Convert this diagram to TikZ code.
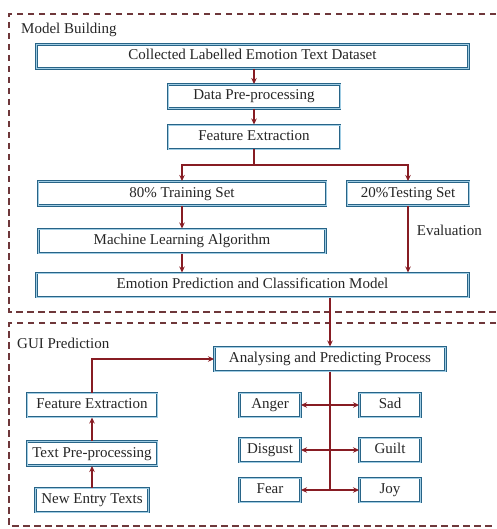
\documentclass[tikz,border=0pt]{standalone}
\usepackage{fontspec}
\setmainfont{Liberation Serif}
\usetikzlibrary{arrows.meta}
\definecolor{boxblue}{RGB}{40,100,135}
\definecolor{boxfill}{RGB}{160,205,228}
\definecolor{arrred}{RGB}{135,28,35}
\definecolor{dashcol}{RGB}{110,55,58}
\tikzset{
    every node/.style={font=\fontsize{15}{18}\selectfont, text=black!85, inner sep=0pt}
}
\tikzset{block/.style={rectangle, draw=boxblue, double=boxfill, double distance=0.9pt, line width=1pt, fill=white, minimum height=24pt, text height=10.5pt, text depth=3.5pt}}
\tikzset{link/.style={draw=arrred, line width=1.7pt}}
\tikzset{flow/.style={link, -{Stealth[length=6pt,width=5.5pt]}}}
\tikzset{frame/.style={draw=dashcol, line width=1.1pt, dash pattern=on 6.5pt off 4.5pt}}

\begin{document}
\begin{tikzpicture}[x=1pt, y=-1pt]
    \useasboundingbox (0,0) rectangle (496,529);
    % dashed frames
    \draw[frame] (496,14) -| (9,312) -- (496,312);
    \draw[frame] (496,323) -| (9,526) -- (496,526);
    \node (mb) [anchor=west] at (21,30) {Model Building};
    \node (gp) [anchor=west] at (17,343) {GUI Prediction};

    % model building
    \node (collect) [block, minimum width=432pt] at (252.5,56.5) {Collected Labelled Emotion Text Dataset};
    \node (dpre) [block, minimum width=172pt] at (254,96.5) {Data Pre-processing};
    \node (fext) [block, minimum width=172pt] at (254,137) {Feature Extraction};
    \node (train) [block, minimum width=288pt] at (182,193.5) {80\% Training Set};
    \node (test) [block, minimum width=122pt] at (408,193.5) {20\%Testing Set};
    \node (mla) [block, minimum width=287pt] at (182,241) {Machine Learning Algorithm};
    \node (emo) [block, minimum width=432pt] at (252.5,285) {Emotion Prediction and Classification Model};
    \coordinate (split) at (254,165);

    % gui prediction
    \node (ana) [block, minimum width=231pt] at (330,359) {Analysing and Predicting Process};
    \node (fext2) [block, minimum width=130pt] at (92,405) {Feature Extraction};
    \node (tpre) [block, minimum width=130pt] at (92,453.5) {Text Pre-processing};
    \node (newt) [block, minimum width=113pt] at (92,500) {New Entry Texts};
    \node (anger) [block, minimum width=61pt] at (270,405) {Anger};
    \node (sad) [block, minimum width=61pt] at (390,405) {Sad};
    \node (disgust) [block, minimum width=61pt] at (270,450) {Disgust};
    \node (guilt) [block, minimum width=61pt] at (390,450) {Guilt};
    \node (fear) [block, minimum width=61pt] at (270,490) {Fear};
    \node (joy) [block, minimum width=61pt] at (390,490) {Joy};

  \draw[flow] (collect.south -| dpre) -- (dpre);
  \draw[flow] (dpre) -- (fext);
  \draw[link] (fext) -- (split);
  \draw[flow] (split) -| (train);
  \draw[flow] (split) -| (test);
  \draw[flow] (train) -- (mla);
  \draw[flow] (mla) -- (mla |- emo.north);
  \draw[flow] (test) -- (test |- emo.north) node [pos=0.36, right=8pt] {Evaluation};
  \draw[flow] (emo.south -| ana) -- (ana);
  \draw[flow] (newt) -- (tpre);
  \draw[flow] (tpre) -- (fext2);
  \draw[flow] (fext2) |- (ana);
  \draw[link] (ana) -- (ana.south |- fear);
  \foreach \l/\r in {anger/sad, disgust/guilt, fear/joy} {
    \draw[flow] (ana.south |- \l) -- (\l);
    \draw[flow] (ana.south |- \r) -- (\r);
  }
\end{tikzpicture}
\end{document}
